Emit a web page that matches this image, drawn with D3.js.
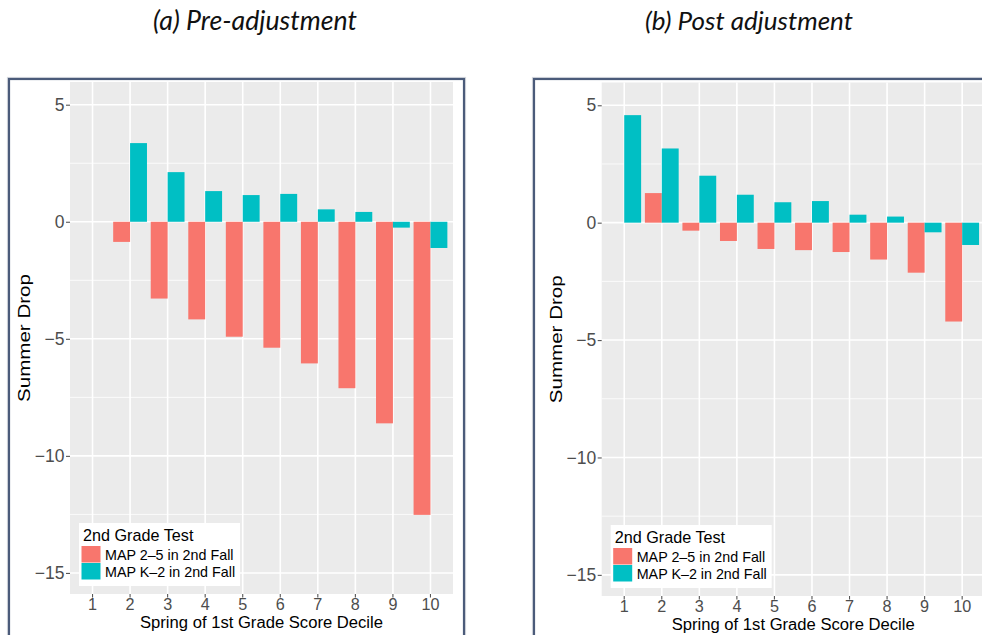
<!DOCTYPE html>
<html>
<head>
<meta charset="utf-8">
<script src="https://cdn.jsdelivr.net/npm/d3@7"></script>
<style>
  html, body { margin: 0; padding: 0; background: #fff; }
  svg { display: block; }
</style>
</head>
<body>
<svg id="chart" width="982" height="635"></svg>
<script>
// Summer drop by spring-of-1st-grade decile, before and after adjustment
const deciles = ["1", "2", "3", "4", "5", "6", "7", "8", "9", "10"];
const seriesNames = ["MAP 2–5 in 2nd Fall", "MAP K–2 in 2nd Fall"];
const seriesColors = ["#F8766D", "#00BFC4"];

const preMap25  = [null, -0.86, -3.28, -4.17, -4.91, -5.38, -6.05, -7.11, -8.61, -12.52];
const preMapK2  = [null, 3.36, 2.12, 1.31, 1.14, 1.19, 0.53, 0.42, -0.25, -1.12];
const postMap25 = [null, 1.26, -0.34, -0.78, -1.12, -1.17, -1.25, -1.57, -2.13, -4.21];
const postMapK2 = [4.58, 3.16, 2.00, 1.19, 0.87, 0.92, 0.34, 0.26, -0.41, -0.95];

const yTicks = [5, 0, -5, -10, -15];
const yMinor = [2.5, -2.5, -7.5, -12.5];
const yDomain = [-15.9, 5.97];

const panelTitles = ["(a) Pre-adjustment", "(b) Post adjustment"];
const yTitle = "Summer Drop";
const xTitle = "Spring of 1st Grade Score Decile";
const legendTitle = "2nd Grade Test";

const svg = d3.select("#chart");
const FONT = "'Liberation Sans', Arial, Helvetica, sans-serif";

function drawPanel(cfg, seriesA, seriesB, title) {
  const g = svg.append("g");

  // outer frame
  g.append("rect")
    .attr("x", cfg.frameX - 1.6).attr("y", cfg.frameY - 1.6)
    .attr("width", cfg.frameW + 3.2).attr("height", 700)
    .attr("fill", "none").attr("stroke", "#d6d9de").attr("stroke-width", 1);
  g.append("rect")
    .attr("x", cfg.frameX).attr("y", cfg.frameY)
    .attr("width", cfg.frameW).attr("height", 700)
    .attr("fill", "#fff").attr("stroke", "#4b5b7a").attr("stroke-width", 2.2);

  // panel title above the frame
  const t = g.append("text")
    .attr("x", cfg.titleX).attr("y", 29.5)
    .attr("text-anchor", "middle")
    .attr("font-family", "Lato, 'Open Sans', sans-serif")
    .attr("font-style", "italic")
    .attr("font-size", 20)
    .attr("fill", "#111")
    .text(title);
  const w = t.node().getComputedTextLength();
  t.attr("font-size", 20 * cfg.titleW / w);

  const x = d3.scaleBand()
    .domain(deciles)
    .range([cfg.left, cfg.right])
    .paddingInner(0.1)
    .paddingOuter(0.15);
  const xs = d3.scaleBand()
    .domain(seriesNames)
    .range([0, x.bandwidth()]);
  const y = d3.scaleLinear()
    .domain(yDomain)
    .range([cfg.bottom, cfg.top]);

  // panel background + grid
  g.append("rect")
    .attr("x", cfg.left).attr("y", cfg.top)
    .attr("width", cfg.right - cfg.left).attr("height", cfg.bottom - cfg.top)
    .attr("fill", "#EBEBEB");
  g.selectAll(".minor").data(yMinor).join("line")
    .attr("x1", cfg.left).attr("x2", cfg.right)
    .attr("y1", d => y(d)).attr("y2", d => y(d))
    .attr("stroke", "#fff").attr("stroke-width", 0.8);
  g.selectAll(".majorY").data(yTicks).join("line")
    .attr("x1", cfg.left).attr("x2", cfg.right)
    .attr("y1", d => y(d)).attr("y2", d => y(d))
    .attr("stroke", "#fff").attr("stroke-width", 1.6);
  g.selectAll(".majorX").data(deciles).join("line")
    .attr("x1", d => x(d) + x.bandwidth() / 2).attr("x2", d => x(d) + x.bandwidth() / 2)
    .attr("y1", cfg.top).attr("y2", cfg.bottom)
    .attr("stroke", "#fff").attr("stroke-width", 1.6);

  // bars
  const rows = [];
  deciles.forEach((d, i) => {
    [seriesA, seriesB].forEach((s, k) => {
      if (s[i] !== null) rows.push({ decile: d, series: seriesNames[k], value: s[i], color: seriesColors[k] });
    });
  });
  g.selectAll(".bar").data(rows).join("rect")
    .attr("x", d => x(d.decile) + xs(d.series))
    .attr("width", xs.bandwidth())
    .attr("y", d => y(Math.max(0, d.value)))
    .attr("height", d => Math.abs(y(d.value) - y(0)))
    .attr("fill", d => d.color);

  // axes
  const yAxis = g.append("g")
    .attr("transform", `translate(${cfg.left},0)`)
    .call(d3.axisLeft(y).tickValues(yTicks).tickSize(4).tickPadding(1.5));
  const xAxis = g.append("g")
    .attr("transform", `translate(0,${cfg.bottom})`)
    .call(d3.axisBottom(x).tickSize(3.5).tickPadding(0.5));
  [yAxis, xAxis].forEach(a => {
    a.select(".domain").remove();
    a.selectAll(".tick line").attr("stroke", "#555").attr("stroke-width", 1.1);
    a.selectAll(".tick text")
      .attr("font-family", FONT).attr("fill", "#4D4D4D");
  });
  yAxis.selectAll(".tick text").attr("font-size", 17.5);
  xAxis.selectAll(".tick text").attr("font-size", 16.2);

  // axis titles
  g.append("text")
    .attr("transform", `translate(${cfg.left - 40},${(cfg.top + cfg.bottom) / 2}) rotate(-90)`)
    .attr("text-anchor", "middle")
    .attr("font-family", FONT).attr("font-size", 16.5)
    .attr("textLength", 128).attr("lengthAdjust", "spacingAndGlyphs")
    .attr("fill", "#000")
    .text(yTitle);
  g.append("text")
    .attr("x", (cfg.left + cfg.right) / 2).attr("y", cfg.bottom + 33.5)
    .attr("text-anchor", "middle")
    .attr("font-family", FONT).attr("font-size", 15.8)
    .attr("textLength", 243).attr("lengthAdjust", "spacingAndGlyphs")
    .attr("fill", "#000")
    .text(xTitle);

  // legend
  const lg = g.append("g")
    .attr("transform", `translate(${cfg.left + 9},${cfg.bottom - 71})`);
  lg.append("rect")
    .attr("width", 161).attr("height", 63)
    .attr("fill", "#fff");
  lg.append("text")
    .attr("x", 4).attr("y", 17.5)
    .attr("font-family", FONT).attr("font-size", 16.2)
    .attr("fill", "#000")
    .text(legendTitle);
  seriesNames.forEach((name, k) => {
    lg.append("rect")
      .attr("x", 2.5).attr("y", 23 + k * 17)
      .attr("width", 19).attr("height", 16.5)
      .attr("fill", seriesColors[k]);
    lg.append("text")
      .attr("x", 26).attr("y", 36.5 + k * 17.5)
      .attr("font-family", FONT).attr("font-size", 14.3)
      .attr("fill", "#000")
      .text(name);
  });
}

drawPanel({ frameX: 9, frameY: 79, frameW: 455, titleX: 255, titleW: 204,
            left: 70, right: 453, top: 82, bottom: 594 },
          preMap25, preMapK2, panelTitles[0]);
drawPanel({ frameX: 534, frameY: 79, frameW: 500, titleX: 749, titleW: 208,
            left: 601.7, right: 984.7, top: 82.5, bottom: 596 },
          postMap25, postMapK2, panelTitles[1]);
</script>
</body>
</html>
